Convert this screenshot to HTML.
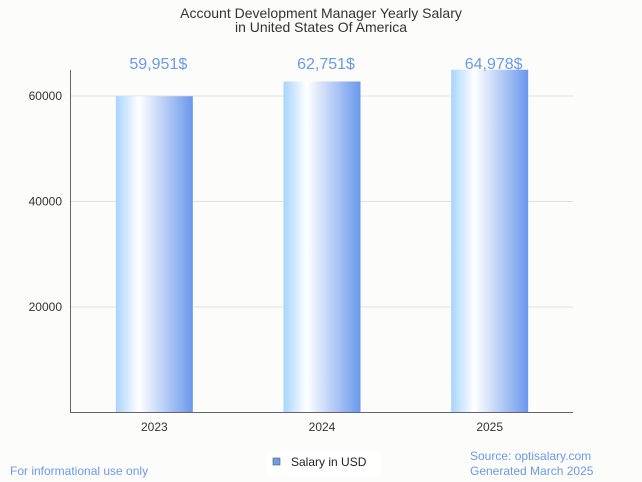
<!DOCTYPE html>
<html><head><meta charset="utf-8"><style>
html,body{margin:0;padding:0;background:#fcfcfa;}
svg{display:block;font-family:"Liberation Sans",sans-serif;}
</style></head><body>
<svg id="chart" width="642" height="482" viewBox="0 0 642 482">
<defs>
<linearGradient id="barGrad" x1="0" y1="0" x2="1" y2="0">
<stop offset="0" stop-color="#a8d4ff"/>
<stop offset="0.3" stop-color="#ffffff"/>
<stop offset="1" stop-color="#6a98ec"/>
</linearGradient>
</defs>
<rect width="642" height="482" fill="#fcfcfa"/>
<text x="321" y="18" text-anchor="middle" font-size="14" fill="#333">Account Development Manager Yearly Salary</text>
<text x="321" y="32" text-anchor="middle" font-size="14" fill="#333">in United States Of America</text>
<g id="grid"></g>
<g id="bars"></g>
<line x1="70.5" y1="70" x2="70.5" y2="412.5" stroke="#666"/>
<line x1="70" y1="412.5" x2="573" y2="412.5" stroke="#666"/>
<g id="labels"></g>
<rect x="267" y="452" width="114" height="24" fill="#fff"/>
<rect x="273" y="458" width="7" height="7" fill="#6a9ee8" stroke="#555" stroke-width="0.6"/>
<text x="291" y="466" font-size="12" fill="#222">Salary in USD</text>
<text x="10" y="475" font-size="12" fill="#6a9ae8">For informational use only</text>
<text x="470" y="460" font-size="12" fill="#6a9ae8">Source: optisalary.com</text>
<text x="470" y="475" font-size="12" fill="#6a9ae8">Generated March 2025</text>
</svg>
<script>
const categories = ["2023","2024","2025"];
const salaries = [59951,62751,64978];
const valueLabels = ["59,951$","62,751$","64,978$"];
const yTicks = [20000,40000,60000];
const NS="http://www.w3.org/2000/svg";
const x0=70,x1=573,yBase=412.5,pxPer=105.5/20000;
const bw=(x1-x0)/categories.length;
function yS(v){return yBase-v*pxPer;}
function xC(i){return x0+bw*(i+0.5)+0.5;}
function mk(tag,attrs,parent){const e=document.createElementNS(NS,tag);for(const k in attrs)e.setAttribute(k,attrs[k]);document.getElementById(parent).appendChild(e);return e;}
yTicks.forEach(t=>{
  const l=mk("line",{x1:x0,x2:x1,y1:yS(t),y2:yS(t),stroke:"#e2e2e2"},"grid");
  
  
  const tx=mk("text",{x:62,y:yS(t)+4,"text-anchor":"end","font-size":"12",fill:"#333"},"labels");
  tx.textContent=t;
  
  
});
categories.forEach((c,i)=>{
  const w=77;
  const r=mk("rect",{x:xC(i)-w/2,y:yS(salaries[i]),width:w,height:yBase-yS(salaries[i]),fill:"url(#barGrad)"},"bars");
  
  
  const vl=mk("text",{x:xC(i)+4,y:69,"text-anchor":"middle","font-size":"16",fill:"#6a9ae8"},"labels");
  vl.textContent=valueLabels[i];
  
  
  const xl=mk("text",{x:xC(i),y:431,"text-anchor":"middle","font-size":"12",fill:"#333"},"labels");
  xl.textContent=c;
  
  
});
</script>
</body></html>
